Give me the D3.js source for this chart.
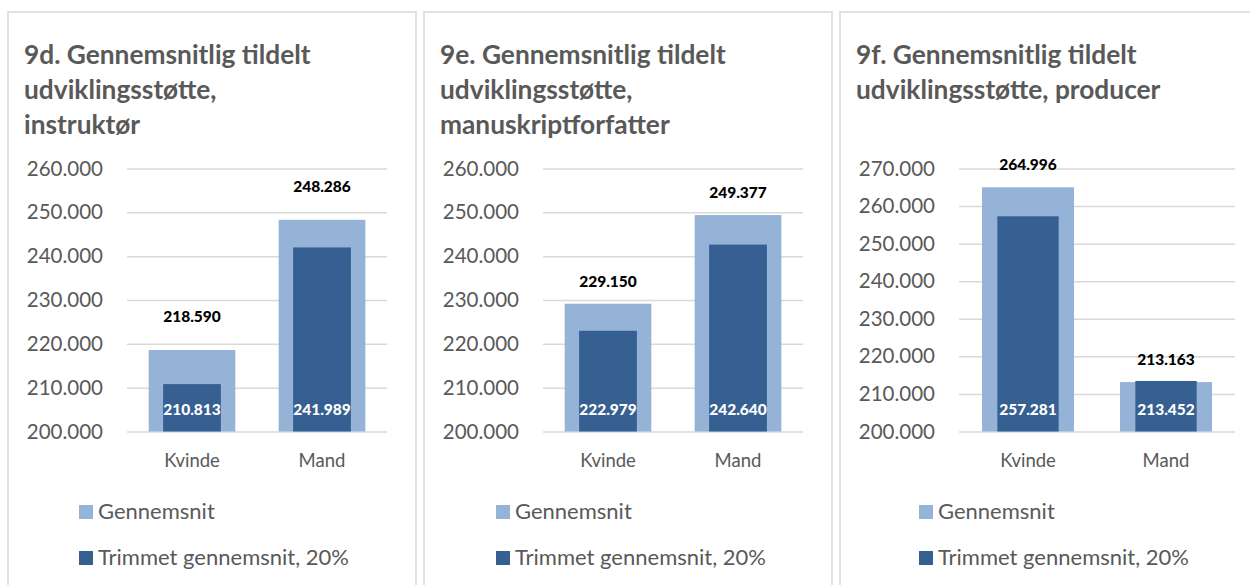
<!DOCTYPE html>
<html>
<head>
<meta charset="utf-8">
<script src="https://cdn.jsdelivr.net/npm/d3@7"></script>
<style>
  body { margin: 0; background: #fff; }
  svg { display: block; font-family: Lato, "Open Sans", sans-serif; }
</style>
</head>
<body>
<div id="chart"></div>
<script>
const categories = ["Kvinde", "Mand"];
const seriesNames = ["Gennemsnit", "Trimmet gennemsnit, 20%"];

const titles9d = ["9d. Gennemsnitlig tildelt", "udviklingsstøtte,", "instruktør"];
const titles9e = ["9e. Gennemsnitlig tildelt", "udviklingsstøtte,", "manuskriptforfatter"];
const titles9f = ["9f. Gennemsnitlig tildelt", "udviklingsstøtte, producer"];

const mean9d = [218590, 248286];
const trim9d = [210813, 241989];
const mean9e = [229150, 249377];
const trim9e = [222979, 242640];
const mean9f = [264996, 213163];
const trim9f = [257281, 213452];

const ticks9de = [200000, 210000, 220000, 230000, 240000, 250000, 260000];
const ticks9f = [200000, 210000, 220000, 230000, 240000, 250000, 260000, 270000];

const W = 1250, H = 585;
const light = "#95b3d7", dark = "#366092", grey = "#595959", gridC = "#d9d9d9";

const da = d3.formatLocale({ decimal: ",", thousands: ".", grouping: [3], currency: ["", " kr"] });
const fmt = da.format(",.0f");

const svg = d3.select("#chart").append("svg")
  .attr("width", W)
  .attr("height", H);

const panels = [
  { x: 8, w: 408, plotW: 260, legendX: 71, labelGap: 28, title: titles9d, mean: mean9d, trim: trim9d, ticks: ticks9de },
  { x: 424, w: 408, plotW: 260, legendX: 72, labelGap: 17, title: titles9e, mean: mean9e, trim: trim9e, ticks: ticks9de },
  { x: 840, w: 432, plotW: 276, legendX: 79, labelGap: 17, title: titles9f, mean: mean9f, trim: trim9f, ticks: ticks9f }
];

panels.forEach(p => {
  const g = svg.append("g").attr("transform", `translate(${p.x},0)`);

  // ramme
  g.append("rect")
    .attr("x", 0).attr("y", 12)
    .attr("width", p.w).attr("height", H + 20)
    .attr("fill", "#fff")
    .attr("stroke", gridC)
    .attr("stroke-width", 1.5);

  g.append("text")
    .attr("x", 16)
    .attr("fill", grey)
    .attr("font-size", "26.3px")
    .attr("font-weight", "bold")
    .selectAll("tspan")
    .data(p.title)
    .enter().append("tspan")
    .attr("x", 16)
    .attr("y", (d, i) => 64 + i * 35)
    .text(d => d);

  const x0 = 119;
  const x = d3.scaleBand()
    .domain(categories)
    .range([x0, x0 + p.plotW])
    .paddingInner(1 / 3)
    .paddingOuter(1 / 6);

  const y = d3.scaleLinear()
    .domain([p.ticks[0], p.ticks[p.ticks.length - 1]])
    .range([431.5, 168.5]);

  const yAxis = d3.axisLeft(y)
    .tickValues(p.ticks)
    .tickFormat(fmt)
    .tickSize(-p.plotW)
    .tickPadding(24);

  const ya = g.append("g")
    .attr("transform", `translate(${x0},0)`)
    .call(yAxis);
  ya.select(".domain").remove();
  ya.selectAll("line").attr("stroke", gridC).attr("stroke-width", 1.5);
  ya.selectAll("text").attr("fill", grey).attr("font-size", "20.5px").attr("font-family", "Lato, sans-serif");

  const xAxis = d3.axisBottom(x).tickSize(0).tickPadding(22);
  const xa = g.append("g")
    .attr("transform", "translate(0,431.5)")
    .call(xAxis);
  xa.select(".domain").remove();
  xa.selectAll("text").attr("fill", grey).attr("font-size", "18.5px").attr("font-family", "Lato, sans-serif");

  const bw = x.bandwidth();
  const dw = bw * 2 / 3;

  g.selectAll(".mean")
    .data(p.mean)
    .enter().append("rect")
    .attr("x", (d, i) => x(categories[i]))
    .attr("y", d => y(d))
    .attr("width", bw)
    .attr("height", d => y(p.ticks[0]) - y(d))
    .attr("fill", light);

  g.selectAll(".trim")
    .data(p.trim)
    .enter().append("rect")
    .attr("x", (d, i) => x(categories[i]) + (bw - dw) / 2)
    .attr("y", d => y(d))
    .attr("width", dw)
    .attr("height", d => y(p.ticks[0]) - y(d))
    .attr("fill", dark);

  g.selectAll(".meanLbl")
    .data(p.mean)
    .enter().append("text")
    .attr("x", (d, i) => x(categories[i]) + bw / 2)
    .attr("y", d => y(d) - p.labelGap)
    .attr("text-anchor", "middle")
    .attr("font-size", "15.5px")
    .attr("font-weight", "900")
    .attr("fill", "#000")
    .text(d => fmt(d));

  g.selectAll(".trimLbl")
    .data(p.trim)
    .enter().append("text")
    .attr("x", (d, i) => x(categories[i]) + bw / 2)
    .attr("y", 414.5)
    .attr("text-anchor", "middle")
    .attr("font-size", "15.5px")
    .attr("font-weight", "900")
    .attr("fill", "#fff")
    .text(d => fmt(d));

  // forklaring
  const leg = g.append("g").attr("transform", `translate(${p.legendX},0)`);
  leg.selectAll("rect")
    .data(seriesNames)
    .enter().append("rect")
    .attr("x", 0)
    .attr("y", (d, i) => 505 + i * 46)
    .attr("width", 14)
    .attr("height", 14)
    .attr("fill", (d, i) => i === 0 ? light : dark);
  leg.selectAll("text")
    .data(seriesNames)
    .enter().append("text")
    .attr("x", 19)
    .attr("y", (d, i) => 519 + i * 46)
    .attr("fill", grey)
    .attr("font-size", "22px")
    .text(d => d);
});
</script>
</body>
</html>
